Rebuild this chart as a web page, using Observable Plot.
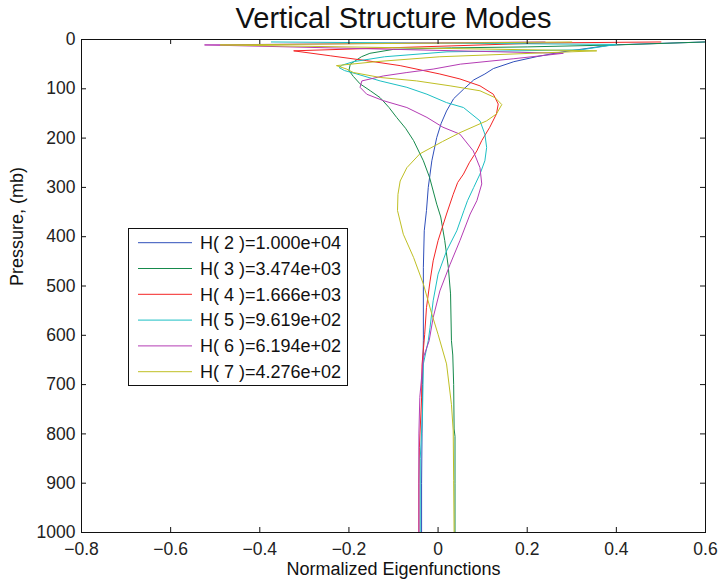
<!DOCTYPE html>
<html>
<head>
<meta charset="utf-8">
<script src="https://cdn.jsdelivr.net/npm/d3@7"></script>
<script src="https://cdn.jsdelivr.net/npm/@observablehq/plot@0.6"></script>
<style>
  html, body { margin: 0; padding: 0; background: #fff; }
</style>
</head>
<body>
<div id="chart"></div>
<script>
// ---- Data: [pressure (mb), normalized eigenfunction value] ----
const modeH2 = [[5,0.60],[11,0.39],[25,0.28],[35,0.22],[45,0.17],[59,0.124],[70,0.105],[82,0.08],[101,0.057],[120,0.035],[145,0.019],[170,0.007],[199,-0.003],[246,-0.014],[300,-0.022],[347,-0.026],[388,-0.031],[462,-0.033],[611,-0.033],[700,-0.035],[800,-0.036],[900,-0.037],[1000,-0.037]];
const modeH3 = [[5,0.60],[11,0.40],[15,0.20],[17,0.03],[20,-0.10],[28,-0.153],[35,-0.172],[50,-0.197],[63,-0.2],[75,-0.19],[90,-0.175],[104,-0.152],[118,-0.13],[138,-0.11],[158,-0.093],[180,-0.073],[205,-0.055],[246,-0.033],[280,-0.019],[334,-0.003],[360,0.006],[408,0.015],[462,0.023],[516,0.028],[611,0.030],[640,0.033],[700,0.035],[790,0.036],[805,0.038],[900,0.038],[1000,0.038]];
const modeH4 = [[5,0.50],[7,0.24],[23,-0.324],[33,-0.242],[43,-0.16],[53,-0.085],[70,0.004],[80,0.049],[94,0.094],[111,0.124],[131,0.135],[151,0.131],[178,0.116],[205,0.098],[226,0.087],[250,0.07],[273,0.057],[290,0.044],[314,0.034],[354,0.019],[408,0.0],[449,-0.011],[490,-0.018],[544,-0.026],[598,-0.03],[660,-0.036],[727,-0.037],[828,-0.042],[900,-0.043],[1000,-0.043]];
const modeH5 = [[5,-0.374],[10,0.40],[21,0.32],[25,0.02],[35,-0.12],[45,-0.19],[52,-0.215],[57,-0.222],[63,-0.21],[70,-0.182],[84,-0.13],[97,-0.07],[111,-0.025],[128,0.019],[138,0.057],[165,0.094],[192,0.105],[219,0.109],[246,0.105],[273,0.094],[300,0.08],[327,0.066],[347,0.058],[388,0.042],[429,0.019],[476,0.0],[530,-0.011],[584,-0.018],[611,-0.022],[658,-0.033],[760,-0.035],[850,-0.04],[1000,-0.04]];
const modeH6 = [[5,0.24],[11,-0.524],[28,0.281],[39,0.17],[50,0.05],[60,-0.011],[67,-0.07],[74,-0.123],[84,-0.171],[97,-0.175],[111,-0.16],[124,-0.123],[138,-0.07],[158,-0.025],[178,0.011],[192,0.049],[226,0.079],[260,0.094],[293,0.098],[327,0.087],[354,0.072],[408,0.049],[456,0.027],[510,0.004],[564,-0.011],[611,-0.02],[645,-0.033],[726,-0.041],[800,-0.043],[1000,-0.043]];
const modeH7 = [[5,0.30],[11,-0.489],[23,0.356],[35,0.004],[45,-0.14],[53,-0.228],[60,-0.205],[67,-0.19],[77,-0.13],[84,-0.048],[94,0.027],[104,0.094],[118,0.128],[132,0.143],[151,0.131],[165,0.109],[189,0.049],[207,0.01],[232,-0.041],[260,-0.07],[287,-0.085],[314,-0.09],[347,-0.091],[395,-0.078],[442,-0.055],[496,-0.033],[557,-0.014],[598,0.0],[658,0.019],[740,0.03],[794,0.034],[895,0.035],[1000,0.036]];

const legendLabels = ["H( 2 )=1.000e+04","H( 3 )=3.474e+03","H( 4 )=1.666e+03","H( 5 )=9.619e+02","H( 6 )=6.194e+02","H( 7 )=4.276e+02"];
const seriesColors = ["#2f4fba","#168a4c","#f42424","#1cbfc4","#b43cb4","#bfbf24"];
const xTicks = [-0.8,-0.6,-0.4,-0.2,0,0.2,0.4,0.6];
const yTicks = [0,100,200,300,400,500,600,700,800,900,1000];
const titleText = "Vertical Structure Modes";
const xLabelText = "Normalized Eigenfunctions";
const yLabelText = "Pressure, (mb)";

// ---- Build table ----
const allSeries = [modeH2, modeH3, modeH4, modeH5, modeH6, modeH7];
const table = allSeries.flatMap((s, i) => s.map(([p, v]) => ({p, v, mode: legendLabels[i]})));

const W = 718, H = 585;
const mL = 81, mR = 13, mT = 39, mB = 53;
const plotW = W - mL - mR, plotH = H - mT - mB;
const font = "'Liberation Sans', Arial, Helvetica, sans-serif";
const xFmt = d => (d < 0 ? "\u2212" : "") + String(Math.abs(Math.round(d * 10) / 10));

const chart = Plot.plot({
  width: W,
  height: H,
  marginLeft: mL, marginRight: mR, marginTop: mT, marginBottom: mB,
  style: {fontFamily: font, fontSize: "17px", background: "#fff", color: "#222"},
  x: {domain: [-0.8, 0.6]},
  y: {domain: [0, 1000], reverse: true},
  color: {domain: legendLabels, range: seriesColors},
  marks: [
    Plot.line(table, {x: "v", y: "p", z: "mode", stroke: "mode", strokeWidth: 1, clip: true}),
    Plot.frame({stroke: "#111", strokeWidth: 1}),
    // inward ticks (bottom, top, left, right)
    Plot.tickX(xTicks, {x: d => d, insetTop: plotH - 5, stroke: "#111"}),
    Plot.tickX(xTicks, {x: d => d, insetBottom: plotH - 5, stroke: "#111"}),
    Plot.tickY(yTicks, {y: d => d, insetRight: plotW - 5, stroke: "#111"}),
    Plot.tickY(yTicks, {y: d => d, insetLeft: plotW - 5, stroke: "#111"}),
    Plot.axisX({ticks: xTicks, tickFormat: xFmt, tickSize: 0, tickPadding: 10, label: null, fontSize: 17.5}),
    Plot.axisY({ticks: yTicks, tickFormat: d => String(d), tickSize: 0, tickPadding: 6, label: null, fontSize: 17.5}),
    Plot.text([titleText], {text: d => d, frameAnchor: "top", lineAnchor: "middle", dy: -21, fontSize: 29, fill: "#111"}),
    Plot.text([xLabelText], {text: d => d, frameAnchor: "bottom", lineAnchor: "middle", dy: 37, fontSize: 18, fill: "#111"}),
    Plot.text([yLabelText], {text: d => d, frameAnchor: "left", lineAnchor: "middle", dx: -64, rotate: -90, fontSize: 18, fill: "#111"})
  ]
});

// ---- Legend (inside plot area, MATLAB style) ----
const svg = d3.select(chart);
const lg = svg.append("g").attr("font-family", font).attr("font-size", 18).attr("text-anchor", "start");
lg.append("rect").attr("x", 128.5).attr("y", 228.5).attr("width", 219).attr("height", 157)
  .attr("fill", "#fff").attr("stroke", "#111").attr("stroke-width", 1);
legendLabels.forEach((lab, i) => {
  const yy = 242.7 + i * 25.8;
  lg.append("line").attr("x1", 138).attr("x2", 192).attr("y1", yy).attr("y2", yy)
    .attr("stroke", seriesColors[i]).attr("stroke-width", 1);
  lg.append("text").attr("x", 200).attr("y", yy).attr("dy", "0.35em")
    .attr("text-anchor", "start").attr("fill", "#111").text(lab);
});

document.getElementById("chart").appendChild(chart);
</script>
</body>
</html>
